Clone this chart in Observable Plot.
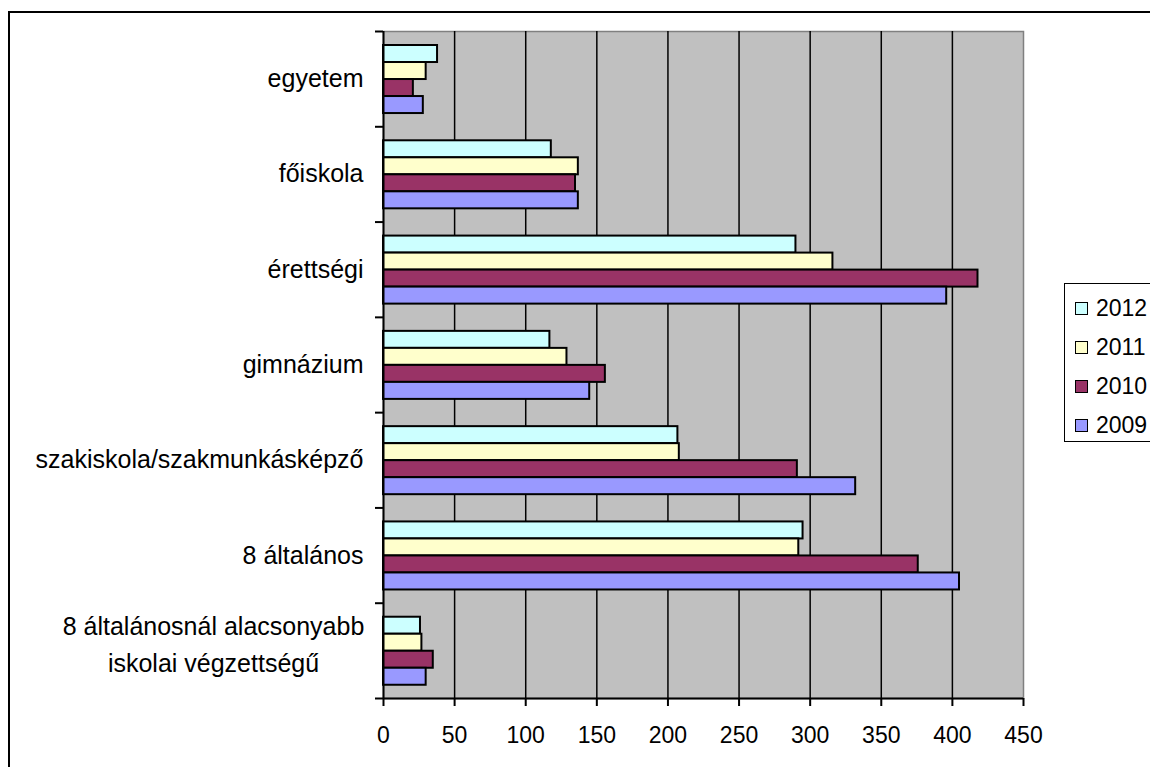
<!DOCTYPE html>
<html>
<head>
<meta charset="utf-8">
<script src="https://cdn.jsdelivr.net/npm/d3@7"></script>
<script src="https://cdn.jsdelivr.net/npm/@observablehq/plot@0.6"></script>
<style>
  html, body { margin: 0; padding: 0; background: #fff; overflow: hidden; }
  body { width: 1150px; height: 767px; position: relative; font-family: "Liberation Sans", Arial, sans-serif; }
  #outer { position: absolute; left: 8px; top: 11px; width: 1200px; height: 800px; border: 2px solid #000; box-sizing: border-box; }
  #chart { position: absolute; left: 0; top: 0; }
  #legend { position: absolute; left: 1064px; top: 283px; width: 120px; height: 159px; border: 1px solid #000; box-sizing: border-box; background: #fff; }
  .item { position: absolute; left: 10px; height: 24px; display: flex; align-items: center; font-size: 23px; color: #000; }
  .sw { width: 11px; height: 11px; border: 1px solid #000; margin-right: 8px; }
</style>
</head>
<body>
<div id="outer"></div>
<div id="chart"></div>
<div id="legend"></div>
<script>
// ---- data ----
const categories = [
  "egyetem",
  "főiskola",
  "érettségi",
  "gimnázium",
  "szakiskola/szakmunkásképző",
  "8 általános",
  "8 általánosnál alacsonyabb\niskolai végzettségű"
];
const years = ["2012", "2011", "2010", "2009"];
const v2012 = [38, 118, 290, 117, 207, 295, 26];
const v2011 = [30, 137, 316, 129, 208, 292, 27];
const v2010 = [21, 135, 418, 156, 291, 376, 35];
const v2009 = [28, 137, 396, 145, 332, 405, 30];
const yearColors = ["#CCFFFF", "#FFFFCC", "#993366", "#9999FF"];
const xTicks = [0, 50, 100, 150, 200, 250, 300, 350, 400, 450];

const seriesValues = [v2012, v2011, v2010, v2009];
const rows = [];
categories.forEach((c, ci) => {
  years.forEach((y, yi) => {
    rows.push({category: c, ci, year: y, yi, value: seriesValues[yi][ci]});
  });
});

// band layout within each category slot (fractions of one slot)
const pad = 0.147, h = 0.1785;

const chart = Plot.plot({
  width: 1150,
  height: 767,
  marginLeft: 383,
  marginRight: 127,
  marginTop: 31,
  marginBottom: 69,
  style: {fontFamily: "'Liberation Sans', Arial, sans-serif", fontSize: "23px", color: "#000", background: "transparent"},
  x: {domain: [0, 450], label: null},
  y: {domain: [0, categories.length], reverse: true, label: null},
  color: {domain: years, range: yearColors},
  marks: [
    Plot.frame({fill: "#C0C0C0", stroke: "#808080", strokeWidth: 1.5}),
    Plot.ruleX(xTicks.slice(1, -1), {stroke: "#000", strokeWidth: 1.5}),
    Plot.rect(rows, {
      x1: () => 0,
      x2: "value",
      y1: d => d.ci + pad + d.yi * h,
      y2: d => d.ci + pad + (d.yi + 1) * h,
      fill: "year",
      stroke: "#000",
      strokeWidth: 2
    }),
    Plot.ruleX([0], {stroke: "#000", strokeWidth: 2}),
    Plot.ruleY([categories.length], {stroke: "#000", strokeWidth: 2}),
    Plot.axisY({ticks: d3.range(categories.length + 1), tickSize: 8, tickFormat: () => "", label: null, stroke: "#000", strokeWidth: 2}),
    Plot.axisY({
      ticks: d3.range(categories.length - 1).map(i => i + 0.5),
      tickSize: 0,
      tickPadding: 20,
      label: null,
      tickFormat: v => categories[Math.floor(v)],
      fill: "#000",
      fontSize: 25
    }),
    Plot.text([categories[categories.length - 1]], {
      y: () => categories.length - 0.5,
      frameAnchor: "left",
      dx: -170,
      dy: -9,
      textAnchor: "middle",
      lineHeight: 1.47,
      fill: "#000",
      fontSize: 25
    }),
    Plot.axisX({ticks: xTicks, tickSize: 8, tickPadding: 20, label: null, tickFormat: d => String(d), stroke: "#000", strokeWidth: 2, fill: "#000", fontSize: 23})
  ]
});
document.getElementById("chart").appendChild(chart);

// legend
const legend = document.getElementById("legend");
const centers = [24, 63, 102, 141];
years.forEach((y, i) => {
  const it = document.createElement("div");
  it.className = "item";
  it.style.top = (centers[i] - 12) + "px";
  const sw = document.createElement("div");
  sw.className = "sw";
  sw.style.background = yearColors[i];
  const t = document.createElement("span");
  t.textContent = y;
  it.appendChild(sw);
  it.appendChild(t);
  legend.appendChild(it);
});
</script>
</body>
</html>
